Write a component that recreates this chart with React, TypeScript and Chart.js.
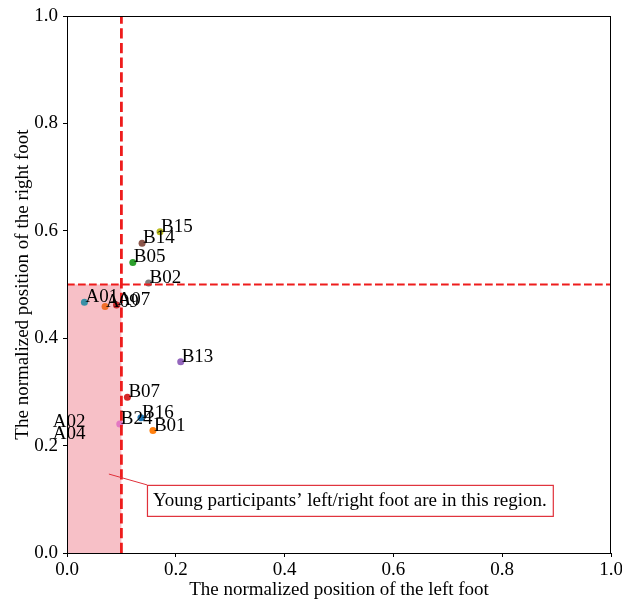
import React, { useEffect, useRef } from "react";
import { Chart, registerables } from "chart.js";

Chart.register(...registerables);

// ---- data ----
const pointLabels = ["A01", "A09", "A07", "B02", "B05", "B14", "B15", "B13", "B07", "B16", "B01", "B24", "A02", "A04"];
const leftFoot = [0.032, 0.070, 0.091, 0.150, 0.121, 0.138, 0.171, 0.209, 0.111, 0.136, 0.158, 0.097, -0.028, -0.028];
const rightFoot = [0.467, 0.459, 0.462, 0.503, 0.541, 0.577, 0.598, 0.356, 0.290, 0.252, 0.228, 0.240, 0.235, 0.212];
const pointColors = ["#3a90a6", "#f0702a", "#c8282c", "#7f7f7f", "#2ca02c", "#8c564b", "#bcbd22", "#9467bd", "#d62728", "#1f77b4", "#ff7f0e", "#e377c2", "#1f77b4", "#ff7f0e"];
const xTicks = [0, 0.2, 0.4, 0.6, 0.8, 1.0];
const yTicks = [0, 0.2, 0.4, 0.6, 0.8, 1.0];
const xThreshold = 0.1;
const yThreshold = 0.5;
const annotationText = "Young participants\u2019 left/right foot are in this region.";
const annotationBox = { x: 0.147, y: 0.098 };
const annotationArrowFrom = { x: 0.077, y: 0.147 };

const FONT = "'Liberation Serif', 'Times New Roman', serif";
const FS = 19;

const overlayPlugin = {
  id: "overlay",
  beforeDatasetsDraw(chart: any) {
    const { ctx, scales } = chart;
    const xs = scales.x, ys = scales.y;
    ctx.save();
    ctx.fillStyle = "rgba(230,60,80,0.32)";
    const x0 = xs.getPixelForValue(0), x1 = xs.getPixelForValue(xThreshold);
    const y0 = ys.getPixelForValue(0), y1 = ys.getPixelForValue(yThreshold);
    ctx.fillRect(x0, y1, x1 - x0, y0 - y1);
    ctx.restore();
  },
  afterDatasetsDraw(chart: any) {
    const { ctx, chartArea, scales } = chart;
    const xs = scales.x, ys = scales.y;
    ctx.save();
    // dashed lines
    ctx.strokeStyle = "#ee1c1c";
    ctx.lineWidth = 2.1;
    ctx.setLineDash([7.7, 3.3]);
    const hy = ys.getPixelForValue(yThreshold);
    ctx.beginPath();
    ctx.moveTo(chartArea.left, hy);
    ctx.lineTo(chartArea.right, hy);
    ctx.stroke();
    ctx.lineWidth = 2.8;
    ctx.setLineDash([10.3, 4.4]);
    const vx = xs.getPixelForValue(xThreshold);
    ctx.beginPath();
    ctx.moveTo(vx, chartArea.bottom);
    ctx.lineTo(vx, chartArea.top);
    ctx.stroke();
    ctx.setLineDash([]);

    // frame
    ctx.strokeStyle = "#000";
    ctx.lineWidth = 1;
    ctx.strokeRect(chartArea.left + 0.5, chartArea.top + 0.5, chartArea.right - chartArea.left - 1, chartArea.bottom - chartArea.top);

    // point labels
    ctx.fillStyle = "#000";
    ctx.font = `${FS}px ${FONT}`;
    ctx.textAlign = "left";
    ctx.textBaseline = "alphabetic";
    for (let i = 0; i < pointLabels.length; i++) {
      const px = xs.getPixelForValue(leftFoot[i]);
      const py = ys.getPixelForValue(rightFoot[i]);
      ctx.fillText(pointLabels[i], px + 1, py);
    }

    // annotation
    const bx = xs.getPixelForValue(annotationBox.x);
    const by = ys.getPixelForValue(annotationBox.y);
    const tw = ctx.measureText(annotationText).width;
    const pad = 6;
    const bh = 31;
    const bw = tw + pad * 2;
    const ax = xs.getPixelForValue(annotationArrowFrom.x);
    const ay = ys.getPixelForValue(annotationArrowFrom.y);
    ctx.strokeStyle = "#e0303a";
    ctx.lineWidth = 1;
    ctx.beginPath();
    ctx.moveTo(ax, ay);
    ctx.lineTo(bx, by - bh / 2);
    ctx.stroke();
    ctx.fillStyle = "#fff";
    ctx.fillRect(bx, by - bh / 2, bw, bh);
    ctx.lineWidth = 1.2;
    ctx.strokeRect(bx + 0.5, by - bh / 2 + 0.5, bw, bh);
    ctx.fillStyle = "#000";
    ctx.textBaseline = "middle";
    ctx.fillText(annotationText, bx + pad, by + 1);
    ctx.restore();
  },
};

export default function App() {
  const ref = useRef<HTMLCanvasElement>(null);
  useEffect(() => {
    if (!ref.current) return;
    const chart = new Chart(ref.current, {
      type: "scatter",
      data: {
        datasets: [
          {
            data: leftFoot.map((x, i) => ({ x, y: rightFoot[i] })),
            pointBackgroundColor: pointColors,
            pointBorderColor: pointColors,
            pointRadius: 3.5,
            pointBorderWidth: 0,
            clip: 0,
          } as any,
        ],
      },
      plugins: [overlayPlugin],
      options: {
        responsive: false,
        animation: false,
        events: [],
        layout: { padding: { top: 16, right: 11, left: 0, bottom: 0 } },
        plugins: { legend: { display: false }, tooltip: { enabled: false } },
        scales: {
          x: {
            type: "linear",
            min: 0,
            max: 1,
            afterFit: (s: any) => { s.height = 49; s.paddingLeft = 0; s.paddingRight = 0; },
            afterBuildTicks: (s: any) => { s.ticks = xTicks.map((v) => ({ value: v })); },
            grid: { display: true, drawOnChartArea: false, drawTicks: true, tickLength: 4, color: "#000" },
            border: { display: true, color: "#000", width: 1 },
            ticks: {
              color: "#000",
              padding: 2,
              maxRotation: 0,
              font: { family: FONT, size: FS },
              callback: (v: any) => Number(v).toFixed(1),
            },
            title: {
              display: true,
              text: "The normalized position of the left foot",
              color: "#000",
              font: { family: FONT, size: FS },
              padding: { top: 0, bottom: 1 },
            },
          },
          y: {
            type: "linear",
            min: 0,
            max: 1,
            afterFit: (s: any) => { s.width = 67; s.paddingTop = 0; s.paddingBottom = 0; },
            afterBuildTicks: (s: any) => { s.ticks = yTicks.map((v) => ({ value: v })); },
            grid: { display: true, drawOnChartArea: false, drawTicks: true, tickLength: 4, color: "#000" },
            border: { display: true, color: "#000", width: 1 },
            ticks: {
              color: "#000",
              padding: 5,
              font: { family: FONT, size: FS },
              callback: (v: any) => Number(v).toFixed(1),
            },
            title: {
              display: true,
              text: "The normalized position of the right foot",
              color: "#000",
              font: { family: FONT, size: FS },
              padding: { top: 12, bottom: 0 },
            },
          },
        },
      },
    });
    return () => chart.destroy();
  }, []);
  return (
    <div style={{ position: "fixed", left: 0, top: 0, width: 622, height: 602, background: "#fff" }}>
      <canvas ref={ref} width={622} height={602} />
    </div>
  );
}
